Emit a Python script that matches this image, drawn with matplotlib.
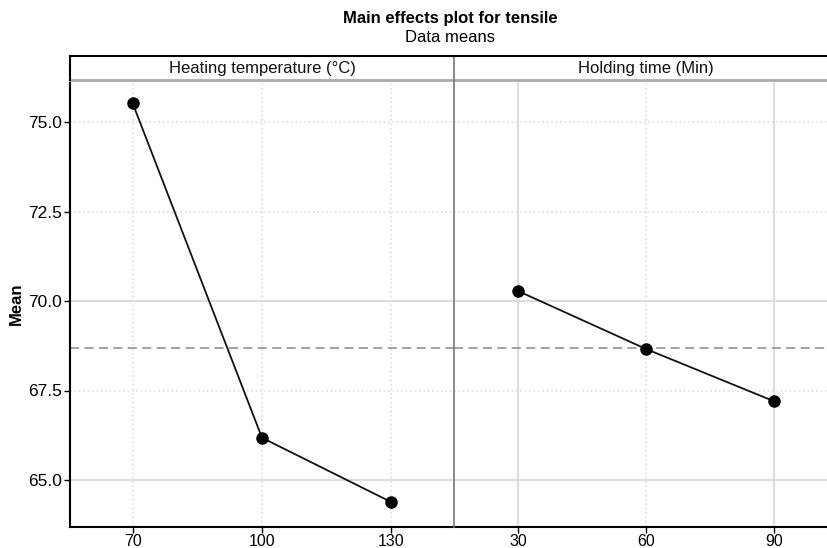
import matplotlib.pyplot as plt
from matplotlib.lines import Line2D

plt.rcParams['font.family'] = ['Liberation Sans', 'DejaVu Sans']

# data
temp_levels = [70, 100, 130]
temp_means = [75.53, 66.18, 64.38]
time_levels = [30, 60, 90]
time_means = [70.28, 68.66, 67.20]
grand_mean = 68.69
panel_titles = ["Heating temperature (°C)", "Holding time (Min)"]
y_ticks = [65.0, 67.5, 70.0, 72.5, 75.0]

W, H = 827, 548
fig = plt.figure(figsize=(W / 100, H / 100), dpi=100)


def fx(px):
    return px / W


def fy(py):
    return 1 - py / H


plot_top, plot_bot = 80, 527
strip_top = 56
panels = [(70, 454, temp_levels, temp_means, (55.5, 144.5)),
          (454, 838, time_levels, time_means, (15, 105))]

# y range matched to the reference pixel positions
y_lo = 65.0 - (plot_bot - 480) / 35.8
y_hi = 75.0 + (122 - plot_top) / 35.8

grid_col = "#dedede"
for i, (x0, x1, lev, means, xl) in enumerate(panels):
    ax = fig.add_axes([fx(x0), fy(plot_bot), fx(x1 - x0), fy(plot_top) - fy(plot_bot)])
    ax.set_xlim(*xl)
    ax.set_ylim(y_lo, y_hi)
    # grid lines
    for yv in y_ticks:
        ls = "-" if yv in (65.0, 70.0) else ":"
        ax.axhline(yv, color=grid_col, lw=1.6 if ls == "-" else 1.2, ls=ls, zorder=0)
    for j, xv in enumerate(lev):
        solid = (i == 1 and j != 1)
        ax.axvline(xv, color=grid_col, lw=1.6 if solid else 1.2,
                   ls="-" if solid else ":", zorder=0)
    ax.axhline(grand_mean, color="#9a9a9a", lw=1.3, ls=(0, (5, 3)), zorder=1)
    ax.plot(lev, means, color="#111111", lw=1.3, marker="o", ms=8,
            mfc="black", mec="black", zorder=3)
    ax.set_xticks(lev)
    ax.set_xticklabels([str(v) for v in lev])
    ax.tick_params(axis="x", length=4, width=1, labelsize=11.5, pad=1, color="black")
    for s in ["top", "right"]:
        ax.spines[s].set_visible(False)
    ax.spines["bottom"].set_linewidth(1.5)
    ax.spines["bottom"].set_color("black")
    if i == 0:
        ax.set_yticks(y_ticks)
        ax.set_yticklabels([f"{v:.1f}" for v in y_ticks])
        ax.tick_params(axis="y", length=4, width=1, labelsize=12.5, pad=2, color="black")
        ax.spines["left"].set_linewidth(1.5)
        ax.set_ylabel("Mean", fontsize=12, fontweight="bold", labelpad=3)
    else:
        ax.set_yticks([])
        ax.spines["left"].set_visible(False)
    # strip label
    fig.text(fx((x0 + x1) / 2), fy((strip_top + plot_top) / 2), panel_titles[i],
             ha="center", va="center", fontsize=12, color="#111111")

# strip bottom line, divider and outer frame
fig.add_artist(Line2D([fx(70), 1], [fy(plot_top), fy(plot_top)], color="#aaaaaa", lw=2))
fig.add_artist(Line2D([fx(454), fx(454)], [fy(plot_bot), fy(strip_top)], color="#777777", lw=1.2))
fig.add_artist(Line2D([fx(70), 1], [fy(strip_top), fy(strip_top)], color="black", lw=1.5))
fig.add_artist(Line2D([fx(70), fx(70)], [fy(plot_top), fy(strip_top)], color="black", lw=1.5))

fig.text(fx(450), fy(18), "Main effects plot for tensile", ha="center", va="center",
         fontsize=12, fontweight="bold")
fig.text(fx(450), fy(38), "Data means", ha="center", va="center", fontsize=12)

fig.savefig("out.png", dpi=100)
